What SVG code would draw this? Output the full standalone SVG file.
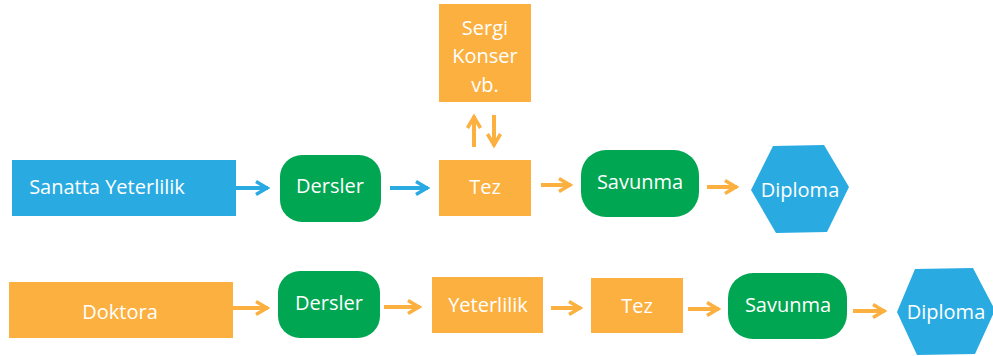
<svg xmlns="http://www.w3.org/2000/svg" width="993" height="356" viewBox="0 0 993 356">
<defs>
<style>
.blue{fill:#29abe2}.green{fill:#00a651}.orange{fill:#fbb040}
text{font-family:"Open Sans","Noto Sans",sans-serif;font-size:20px;fill:#fff;text-anchor:middle}
.cb{stroke:#29abe2;stroke-width:4;fill:none}
.co{stroke:#fbb040;stroke-width:4;fill:none}
</style>
<marker id="ab" markerUnits="userSpaceOnUse" markerWidth="20" markerHeight="20" viewBox="-2 -10 20 20" refX="12" refY="0" orient="auto"><path d="M0,-6.5 L11,0 L0,6.5" fill="none" stroke="#29abe2" stroke-width="3.5"/></marker>
<marker id="ao" markerUnits="userSpaceOnUse" markerWidth="20" markerHeight="20" viewBox="-2 -10 20 20" refX="12" refY="0" orient="auto"><path d="M0,-6.5 L11,0 L0,6.5" fill="none" stroke="#fbb040" stroke-width="3.5"/></marker>
</defs>
<g id="connectors">
<line class="cb" x1="236" y1="188" x2="268" y2="188" marker-end="url(#ab)"/>
<line class="cb" x1="390" y1="188" x2="428" y2="188" marker-end="url(#ab)"/>
<line class="co" x1="541" y1="185" x2="571" y2="185" marker-end="url(#ao)"/>
<line class="co" x1="707" y1="187" x2="737" y2="187" marker-end="url(#ao)"/>
<line class="co" x1="474" y1="147" x2="474" y2="116" marker-end="url(#ao)"/>
<line class="co" x1="494" y1="115" x2="494" y2="146" marker-end="url(#ao)"/>
<line class="co" x1="233" y1="308" x2="268" y2="308" marker-end="url(#ao)"/>
<line class="co" x1="384" y1="307" x2="420" y2="307" marker-end="url(#ao)"/>
<line class="co" x1="551" y1="308" x2="581" y2="308" marker-end="url(#ao)"/>
<line class="co" x1="688" y1="309" x2="719" y2="309" marker-end="url(#ao)"/>
<line class="co" x1="853" y1="311" x2="885" y2="311" marker-end="url(#ao)"/>
</g>
<g id="sanatta"><rect class="blue" x="12" y="160" width="224" height="56"/><text x="107" y="194">Sanatta Yeterlilik</text></g>
<g id="dersler1"><rect class="green" x="280" y="155" width="101" height="67" rx="22"/><text x="330" y="193">Dersler</text></g>
<g id="tez1"><rect class="orange" x="439" y="160" width="92" height="56"/><text x="485" y="194">Tez</text></g>
<g id="sergi"><rect class="orange" x="439" y="4" width="92" height="98"/><text x="485" y="35">Sergi</text><text x="485" y="63">Konser</text><text x="485" y="92">vb.</text></g>
<g id="savunma1"><rect class="green" x="581" y="150" width="118" height="67" rx="25"/><text x="640" y="189">Savunma</text></g>
<g id="diploma1"><polygon class="blue" points="751,190 773,146 824,145 849,187 827,232 776,233"/><text x="800" y="197">Diploma</text></g>
<g id="doktora"><rect class="orange" x="9" y="282" width="224" height="56"/><text x="120" y="319">Doktora</text></g>
<g id="dersler2"><rect class="green" x="278" y="271" width="102" height="67" rx="22"/><text x="329" y="310">Dersler</text></g>
<g id="yeterlilik"><rect class="orange" x="432" y="277" width="111" height="56"/><text x="488" y="312">Yeterlilik</text></g>
<g id="tez2"><rect class="orange" x="591" y="278" width="92" height="55"/><text x="637" y="313">Tez</text></g>
<g id="savunma2"><rect class="green" x="728" y="273" width="119" height="66" rx="25"/><text x="788" y="312">Savunma</text></g>
<g id="diploma2"><polygon class="blue" points="897,312 915,269 973,268 995,310 975,354 917,355"/><text x="946" y="319">Diploma</text></g>
</svg>
